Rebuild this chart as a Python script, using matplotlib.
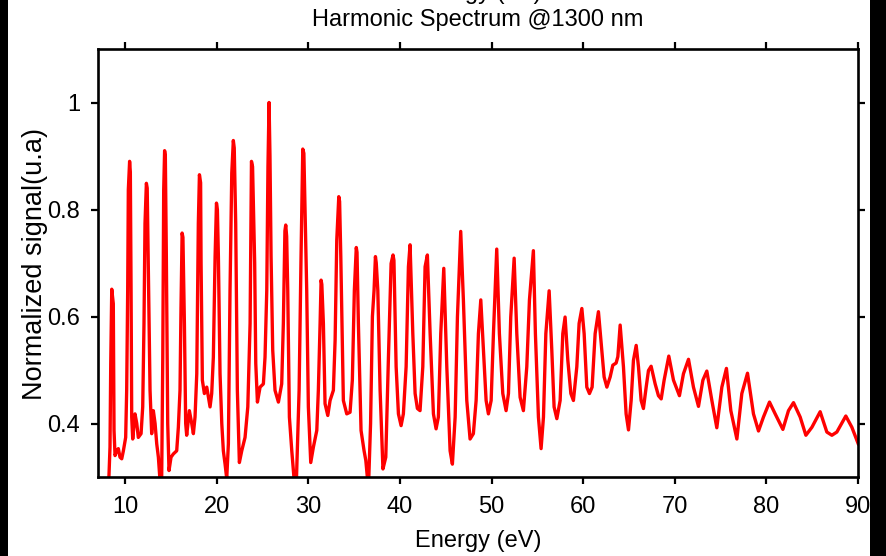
import matplotlib
matplotlib.use("Agg")
import matplotlib.pyplot as plt
from matplotlib import font_manager
from matplotlib.patches import Rectangle

energy = [8.20, 8.36, 8.44, 8.55, 8.72, 8.80, 8.91, 9.09, 9.27, 9.45, 9.64, 9.82,
          10.07, 10.18, 10.29, 10.36, 10.50, 10.58, 10.66, 10.73, 10.84, 11.09, 11.28, 11.45,
          11.75, 11.93, 12.07, 12.18, 12.33, 12.42, 12.55, 12.73, 12.91, 13.09, 13.28, 13.46,
          13.64, 13.82, 14.00, 14.12, 14.22, 14.32, 14.40, 14.51, 14.66, 14.80, 15.02, 15.27,
          15.64, 15.82, 16.00, 16.11, 16.23, 16.32, 16.48, 16.62, 16.73, 17.02, 17.28, 17.46,
          17.64, 17.83, 18.00, 18.12, 18.25, 18.30, 18.44, 18.66, 18.92, 19.10, 19.28, 19.46,
          19.64, 19.83, 19.98, 20.08, 20.19, 20.37, 20.56, 20.73, 20.92, 21.10, 21.28, 21.46,
          21.65, 21.82, 21.92, 22.08, 22.26, 22.48, 22.74, 23.10, 23.40, 23.65, 23.80, 23.92,
          24.15, 24.27, 24.45, 24.74, 25.10, 25.28, 25.47, 25.60, 25.72, 25.82, 25.94, 26.12,
          26.37, 26.74, 27.10, 27.28, 27.45, 27.54, 27.64, 27.76, 27.94, 28.20, 28.48, 28.70,
          29.00, 29.21, 29.40, 29.52, 29.83, 30.01, 30.27, 30.56, 30.93, 31.10, 31.29, 31.40,
          31.48, 31.65, 31.83, 32.13, 32.38, 32.74, 32.93, 33.11, 33.33, 33.42, 33.55, 33.83,
          34.20, 34.56, 34.81, 35.03, 35.24, 35.32, 35.47, 35.76, 36.09, 36.28, 36.50, 36.60,
          36.80, 37.00, 37.18, 37.33, 37.42, 37.59, 37.84, 38.15, 38.46, 38.75, 39.04, 39.25,
          39.35, 39.59, 39.84, 40.13, 40.38, 40.68, 40.93, 41.11, 41.41, 41.66, 41.91, 42.20,
          42.50, 42.75, 43.00, 43.30, 43.66, 43.95, 44.20, 44.46, 44.79, 45.12, 45.48, 45.73,
          46.03, 46.28, 46.64, 46.93, 47.30, 47.66, 48.02, 48.32, 48.57, 48.83, 49.12, 49.41,
          49.66, 49.96, 50.21, 50.57, 50.86, 51.23, 51.59, 51.85, 52.10, 52.47, 52.76, 53.12,
          53.48, 53.85, 54.14, 54.57, 54.79, 55.12, 55.41, 55.67, 55.93, 56.29, 56.58, 56.83,
          57.13, 57.49, 57.78, 58.03, 58.33, 58.66, 58.94, 59.31, 59.56, 59.86, 60.11, 60.40,
          60.69, 60.98, 61.31, 61.67, 62.04, 62.29, 62.59, 62.95, 63.24, 63.60, 63.79, 64.04,
          64.40, 64.69, 64.95, 65.24, 65.49, 65.79, 66.04, 66.33, 66.58, 66.88, 67.13, 67.42,
          67.86, 68.22, 68.52, 68.84, 69.35, 69.86, 70.51, 70.95, 71.50, 72.04, 72.59, 73.07,
          73.50, 74.05, 74.59, 75.14, 75.64, 76.12, 76.78, 77.32, 77.94, 78.59, 79.14, 79.68,
          80.34, 80.96, 81.80, 82.41, 82.96, 83.69, 84.31, 84.97, 85.87, 86.60, 87.15, 87.69,
          88.67, 89.33, 90.05]

signal = [0.280, 0.356, 0.512, 0.651, 0.624, 0.387, 0.340, 0.349, 0.353, 0.337, 0.334, 0.349,
          0.374, 0.462, 0.649, 0.837, 0.890, 0.870, 0.649, 0.412, 0.371, 0.418, 0.400, 0.374,
          0.381, 0.431, 0.587, 0.774, 0.849, 0.840, 0.681, 0.462, 0.381, 0.424, 0.400, 0.362,
          0.337, 0.293, 0.297, 0.524, 0.837, 0.910, 0.900, 0.712, 0.400, 0.312, 0.337, 0.343,
          0.349, 0.393, 0.462, 0.618, 0.756, 0.748, 0.587, 0.400, 0.378, 0.424, 0.400, 0.381,
          0.412, 0.493, 0.774, 0.865, 0.850, 0.700, 0.481, 0.456, 0.468, 0.449, 0.431, 0.456,
          0.524, 0.712, 0.812, 0.800, 0.712, 0.493, 0.400, 0.349, 0.324, 0.297, 0.362, 0.649,
          0.868, 0.929, 0.915, 0.774, 0.462, 0.327, 0.349, 0.374, 0.431, 0.587, 0.890, 0.880,
          0.700, 0.512, 0.440, 0.468, 0.474, 0.524, 0.649, 0.880, 1.000, 0.900, 0.712, 0.537,
          0.462, 0.440, 0.474, 0.587, 0.760, 0.771, 0.750, 0.649, 0.412, 0.349, 0.290, 0.290,
          0.462, 0.712, 0.913, 0.905, 0.649, 0.431, 0.327, 0.356, 0.387, 0.462, 0.587, 0.668,
          0.660, 0.587, 0.437, 0.415, 0.443, 0.462, 0.556, 0.743, 0.824, 0.815, 0.712, 0.443,
          0.418, 0.421, 0.481, 0.649, 0.729, 0.720, 0.587, 0.387, 0.349, 0.331, 0.290, 0.295,
          0.400, 0.600, 0.649, 0.712, 0.700, 0.649, 0.462, 0.315, 0.337, 0.524, 0.699, 0.715,
          0.705, 0.506, 0.418, 0.396, 0.418, 0.506, 0.693, 0.734, 0.568, 0.456, 0.428, 0.424,
          0.506, 0.693, 0.715, 0.568, 0.418, 0.390, 0.412, 0.568, 0.690, 0.506, 0.349, 0.324,
          0.412, 0.599, 0.759, 0.631, 0.443, 0.371, 0.381, 0.443, 0.568, 0.631, 0.537, 0.443,
          0.418, 0.443, 0.568, 0.726, 0.568, 0.456, 0.424, 0.456, 0.599, 0.709, 0.568, 0.449,
          0.424, 0.506, 0.631, 0.723, 0.568, 0.412, 0.353, 0.412, 0.568, 0.648, 0.537, 0.431,
          0.409, 0.443, 0.568, 0.599, 0.518, 0.456, 0.443, 0.506, 0.587, 0.615, 0.568, 0.468,
          0.456, 0.468, 0.568, 0.609, 0.537, 0.487, 0.468, 0.487, 0.509, 0.513, 0.525, 0.584,
          0.506, 0.418, 0.388, 0.443, 0.518, 0.546, 0.506, 0.443, 0.428, 0.468, 0.499, 0.507,
          0.474, 0.452, 0.446, 0.481, 0.526, 0.481, 0.452, 0.493, 0.520, 0.468, 0.432, 0.481,
          0.498, 0.443, 0.392, 0.468, 0.503, 0.424, 0.371, 0.456, 0.494, 0.418, 0.386, 0.412,
          0.440, 0.418, 0.389, 0.424, 0.439, 0.412, 0.378, 0.393, 0.422, 0.384, 0.378, 0.384,
          0.414, 0.393, 0.361]

x_ticks = [10, 20, 30, 40, 50, 60, 70, 80, 90]
y_ticks = [0.4, 0.6, 0.8, 1.0]
y_ticklabels = ["0.4", "0.6", "0.8", "1"]

names = {f.name for f in font_manager.fontManager.ttflist}
narrow = "Liberation Sans Narrow" if "Liberation Sans Narrow" in names else "Liberation Sans"
regular = "Liberation Sans"

fig = plt.figure(figsize=(8.86, 5.56), dpi=100)
fig.patch.set_facecolor("white")
ax = fig.add_axes([98 / 886, 79 / 556, 760 / 886, 428 / 556])

ax.plot(energy, signal, color="#ff0000", lw=2.4, solid_joinstyle="round",
        solid_capstyle="round")

ax.set_xlim(7.05, 90)
ax.set_ylim(0.3, 1.1)
ax.set_xticks(x_ticks)
ax.set_yticks(y_ticks)
ax.set_yticklabels(y_ticklabels)
ax.tick_params(axis="both", direction="out", length=5, width=1.6, color="black",
               top=True, right=True, labeltop=False, labelright=False)
ax.tick_params(axis="x", pad=9)
ax.tick_params(axis="y", pad=8)
for lab in ax.get_xticklabels() + ax.get_yticklabels():
    lab.set_fontfamily(narrow)
    lab.set_fontsize(17)
for s in ax.spines.values():
    s.set_linewidth(1.9)

fig.text(478 / 886, 1 - 20 / 556, "Harmonic Spectrum @1300 nm", ha="center", va="center",
         fontsize=17, family=narrow)
fig.text(478 / 886, 1.001, "Energy (eV)", ha="center", va="baseline",
         fontsize=17, family=narrow)
fig.text(478 / 886, 15 / 556, "Energy (eV)", ha="center", va="center",
         fontsize=17, family=narrow)
fig.text(35 / 886, 0.525, "Normalized signal(u.a)", ha="center", va="center",
         rotation=90, fontsize=19.5, family=regular)

fig.patches.append(Rectangle((0, 0), 8 / 886, 1, transform=fig.transFigure,
                             facecolor="black", edgecolor="none", zorder=10))
fig.patches.append(Rectangle((870 / 886, 0), 16 / 886, 1, transform=fig.transFigure,
                             facecolor="black", edgecolor="none", zorder=10))

fig.savefig("out.png", dpi=100)
